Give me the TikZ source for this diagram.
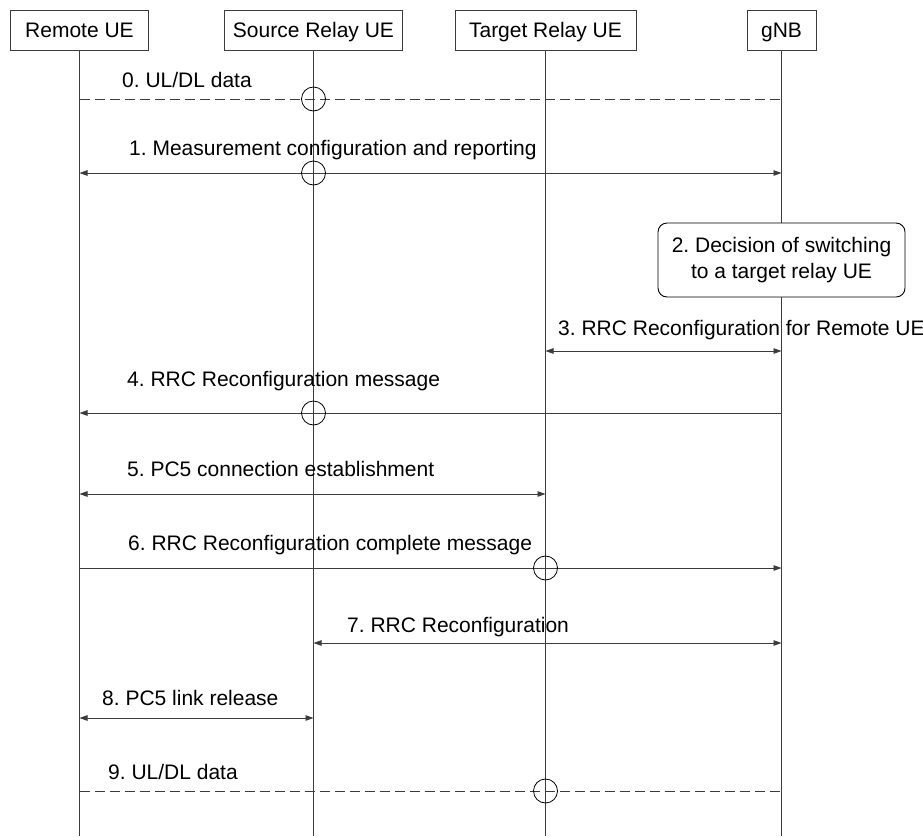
\documentclass[tikz,border=0pt]{standalone}
\usepackage{fontspec}
\setmainfont{Liberation Sans}
\usetikzlibrary{arrows.meta}
\frenchspacing
\definecolor{ln}{RGB}{60,60,60}
\tikzset{
  head/.style={draw=ln, line width=0.9pt, minimum height=40pt, inner sep=0pt, text height=15pt, text depth=0pt, font=\fontsize{21}{25}\selectfont},
  life/.style={draw=ln, line width=0.8pt},
  msg/.style={draw=ln, line width=0.9pt},
  tips/.style={{Triangle[length=8pt,width=5.5pt]}-{Triangle[length=8pt,width=5.5pt]}},
  tipl/.style={{Triangle[length=8pt,width=5.5pt]}-},
  tipr/.style={-{Triangle[length=8pt,width=5.5pt]}},
  dash line/.style={msg, dash pattern=on 10pt off 5pt},
  lbl/.style={anchor=base west, inner sep=0pt, font=\fontsize{21}{25}\selectfont},
  xcirc/.style={draw=black, line width=0.8pt, circle, minimum size=24pt, inner sep=0pt},
  decision/.style={draw=black, line width=0.9pt, rounded corners=9pt, fill=white, minimum width=247pt, minimum height=74pt, align=center, font=\fontsize{21}{26}\selectfont}
}
\begin{document}
\begin{tikzpicture}[x=1pt,y=-1pt]
\useasboundingbox (0,0) rectangle (923,836);
% headers
\node[head, minimum width=138pt] (ru) at (79.5,30) {Remote UE};
\node[head, minimum width=178pt] (su) at (313.5,30) {Source Relay UE};
\node[head, minimum width=181pt] (tu) at (545.5,30) {Target Relay UE};
\node[head, minimum width=69pt] (gn) at (781.5,30) {gNB};
% lifeline ends
\coordinate (ruE) at (79.5,836);
\coordinate (suE) at (313.5,836);
\coordinate (tuE) at (545.5,836);
\coordinate (gnE) at (781.5,836);
\draw[life] (ru.south) -- (ruE);
\draw[life] (su.south) -- (suE);
\draw[life] (tu.south) -- (tuE);
\draw[life] (gn.south) -- (gnE);

% message rows
\foreach \n/\y in {0/99,1/173,3/351,4/413,5/494,6/568,7/643,8/718,9/791}{
  \coordinate (r\n) at (ru.south |- 0,\y);
  \coordinate (s\n) at (su.south |- 0,\y);
  \coordinate (t\n) at (tu.south |- 0,\y);
  \coordinate (g\n) at (gn.south |- 0,\y);
}

% 0
\draw[dash line] (r0) -- (g0);
\node[xcirc] (c0) at (s0) {};
\node[lbl] (l0) at (122,87) {0. UL/DL data};
% 1
\draw[msg, tips] (r1) -- (g1);
\node[xcirc] (c1) at (s1) {};
\node[lbl] (l1) at (129,155) {1. Measurement configuration and reporting};
% 2
\node[decision] (d2) at (781.5,260) {2. Decision of switching\\to a target relay UE};
% 3
\draw[msg, tips] (t3) -- (g3);
\node[lbl] (l3) at (558,335) {3. RRC Reconfiguration for Remote UE};
% 4
\draw[msg, tipl] (r4) -- (g4);
\node[xcirc] (c4) at (s4) {};
\node[lbl] (l4) at (127,386) {4. RRC Reconfiguration message};
% 5
\draw[msg, tips] (r5) -- (t5);
\node[lbl] (l5) at (127,476) {5. PC5 connection establishment};
% 6
\draw[msg, tipr] (r6) -- (g6);
\node[xcirc] (c6) at (t6) {};
\node[lbl] (l6) at (128,550) {6. RRC Reconfiguration complete message};
% 7
\draw[msg, tips] (s7) -- (g7);
\node[lbl] (l7) at (347,632) {7. RRC Reconfiguration};
% 8
\draw[msg, tips] (r8) -- (s8);
\node[lbl] (l8) at (102,705) {8. PC5 link release};
% 9
\draw[dash line] (r9) -- (g9);
\node[xcirc] (c9) at (t9) {};
\node[lbl] (l9) at (108,779) {9. UL/DL data};
\end{tikzpicture}
\end{document}
